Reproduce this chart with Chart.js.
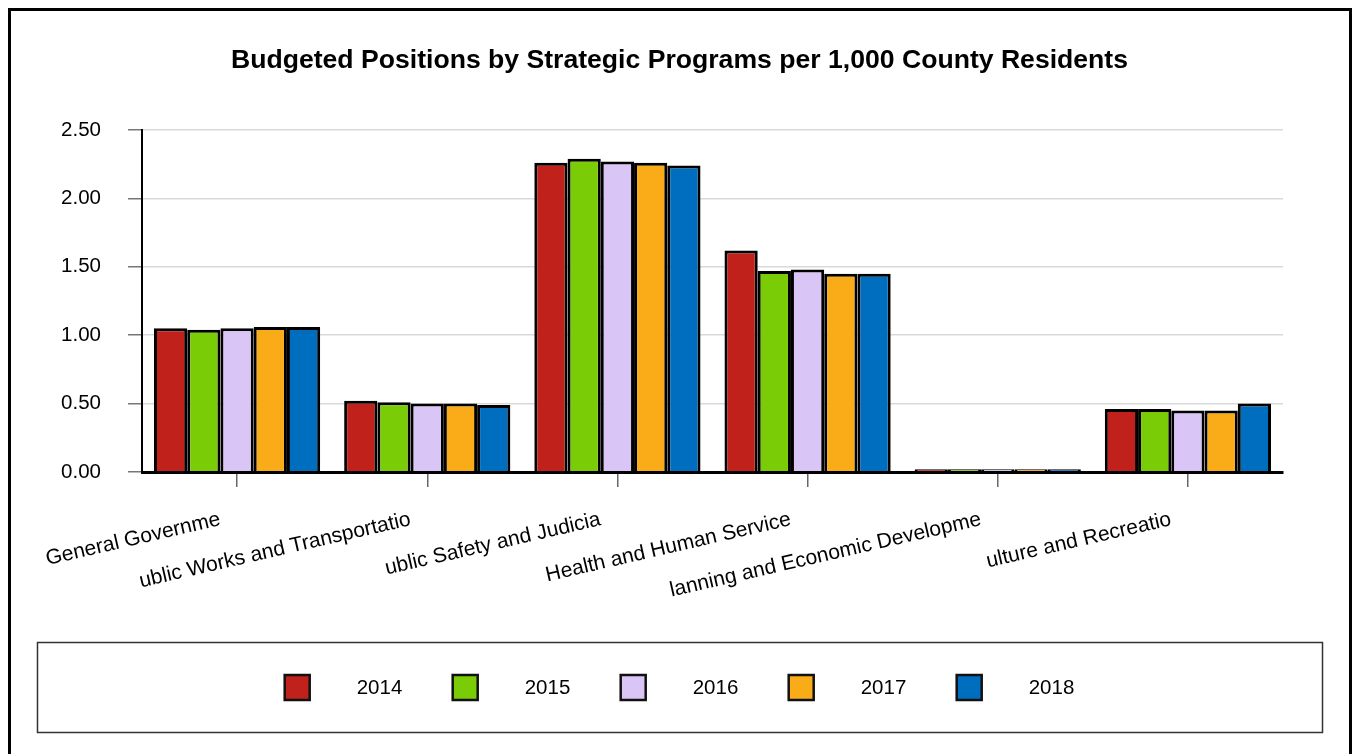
<!DOCTYPE html>
<html>
<head>
<meta charset="utf-8">
<script src="https://cdn.jsdelivr.net/npm/chart.js@4.4.1/dist/chart.umd.min.js"></script>
<style>
  html, body { margin: 0; padding: 0; background: #fff; }
  #wrap { width: 1354px; height: 754px; position: relative; }
</style>
</head>
<body>
<div id="wrap"><canvas id="c" width="1354" height="754"></canvas></div>
<script>
const titleText = 'Budgeted Positions by Strategic Programs per 1,000 County Residents';
const categories = ['General Governme', 'ublic Works and Transportatio', 'ublic Safety and Judicia', 'Health and Human Service', 'lanning and Economic Developme', 'ulture and Recreatio'];
const years = ['2014', '2015', '2016', '2017', '2018'];
const v2014 = [1.05, 0.52, 2.26, 1.62, 0.02, 0.46];
const v2015 = [1.04, 0.51, 2.29, 1.47, 0.02, 0.46];
const v2016 = [1.05, 0.50, 2.27, 1.48, 0.02, 0.45];
const v2017 = [1.06, 0.50, 2.26, 1.45, 0.02, 0.45];
const v2018 = [1.06, 0.49, 2.24, 1.45, 0.02, 0.50];
const yTicks = [0, 0.5, 1.0, 1.5, 2.0, 2.5];
const colors = ['#C0211A', '#7ACC07', '#D9C6F7', '#F9AC18', '#006EBF'];
const seriesValues = [v2014, v2015, v2016, v2017, v2018];

const FONT = '"Liberation Sans", Arial, sans-serif';

const framePlugin = {
  id: 'frame',
  beforeDraw(chart) {
    const ctx = chart.ctx;
    ctx.save();
    ctx.fillStyle = '#fff';
    ctx.fillRect(0, 0, chart.width, chart.height);
    ctx.restore();
  },
  afterDraw(chart) {
    const ctx = chart.ctx;
    ctx.save();
    // outer frame
    ctx.strokeStyle = '#000';
    ctx.lineWidth = 3;
    ctx.strokeRect(9.5, 9.5, 1341, 800);
    // title
    ctx.fillStyle = '#000';
    ctx.font = 'bold 26.6px ' + FONT;
    ctx.textAlign = 'center';
    ctx.textBaseline = 'middle';
    ctx.fillText(titleText, 679.5, 61);
    // legend box
    ctx.strokeStyle = '#333';
    ctx.lineWidth = 1.5;
    ctx.strokeRect(37.5, 642.5, 1285, 90);
    // legend items
    const ds = chart.data.datasets;
    const spacing = 168, box = 25, gap = 47;
    ctx.font = '20.5px ' + FONT;
    ctx.textAlign = 'left';
    const textW = ctx.measureText(ds[ds.length - 1].label).width;
    const groupW = spacing * (ds.length - 1) + box + gap + textW;
    let x = 679.5 - groupW / 2;
    const cy = 687.5;
    ds.forEach((d) => {
      ctx.fillStyle = d.backgroundColor;
      ctx.fillRect(x, cy - box / 2, box, box);
      ctx.strokeStyle = '#111';
      ctx.lineWidth = 2.5;
      ctx.strokeRect(x, cy - box / 2, box, box);
      ctx.fillStyle = '#000';
      ctx.fillText(d.label, x + box + gap, cy + 1);
      x += spacing;
    });
    ctx.restore();
  }
};

new Chart(document.getElementById('c'), {
  type: 'bar',
  data: {
    labels: categories,
    datasets: years.map((y, i) => ({
      label: y,
      data: seriesValues[i],
      backgroundColor: colors[i],
      borderColor: '#000',
      borderWidth: 3,
      categoryPercentage: 0.874,
      barPercentage: 1.0
    }))
  },
  options: {
    responsive: false,
    animation: false,
    events: [],
    layout: { padding: { left: 0, top: 130, right: 71, bottom: 0 } },
    plugins: {
      legend: { display: false },
      title: { display: false },
      tooltip: { enabled: false }
    },
    scales: {
      x: {
        offset: true,
        grid: {
          offset: false,
          drawOnChartArea: false,
          drawTicks: true,
          tickLength: 15,
          tickColor: '#666',
          lineWidth: 1.5
        },
        border: { display: true, color: '#000', width: 3, z: 1 },
        ticks: {
          font: { family: FONT, size: 21 },
          color: '#000',
          maxRotation: 13,
          minRotation: 13,
          autoSkip: false,
          padding: 20,
          labelOffset: -17
        },
        afterFit(scale) { scale.height = 754 - 472; }
      },
      y: {
        min: 0,
        max: 2.5,
        afterBuildTicks(scale) { scale.ticks = yTicks.map(v => ({ value: v })); },
        grid: {
          color: '#d9d9d9',
          lineWidth: 1.5,
          drawTicks: true,
          tickLength: 14,
          tickColor: '#777'
        },
        border: { display: true, color: '#000', width: 2, z: 1 },
        ticks: {
          font: { family: FONT, size: 20.5 },
          color: '#000',
          padding: 27,
          callback: (v) => Number(v).toFixed(2)
        },
        afterFit(scale) { scale.width = 142; }
      }
    }
  },
  plugins: [framePlugin]
});
</script>
</body>
</html>
